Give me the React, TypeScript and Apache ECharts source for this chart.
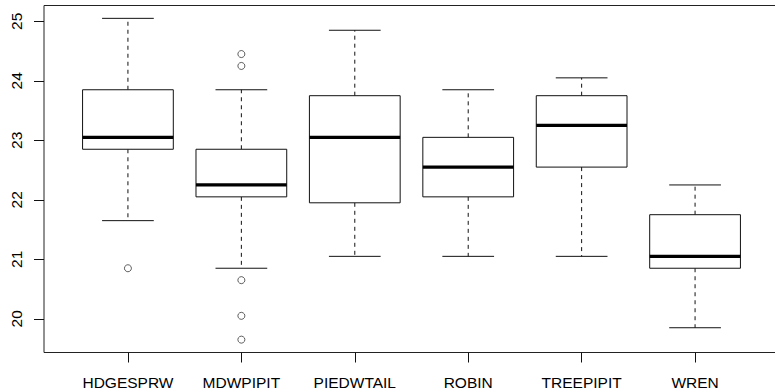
import { useEffect, useRef } from "react";
import * as echarts from "echarts";

// Egg length by host species (box = hinges, thick bar = median, dashed whiskers)
const groups = ["HDGESPRW", "MDWPIPIT", "PIEDWTAIL", "ROBIN", "TREEPIPIT", "WREN"];
const lowerWhisker = [21.65, 20.85, 21.05, 21.05, 21.05, 19.85];
const lowerHinge = [22.85, 22.05, 21.95, 22.05, 22.55, 20.85];
const medians = [23.05, 22.25, 23.05, 22.55, 23.25, 21.05];
const upperHinge = [23.85, 22.85, 23.75, 23.05, 23.75, 21.75];
const upperWhisker = [25.05, 23.85, 24.85, 23.85, 24.05, 22.25];

// Points beyond the whiskers: group position (1-based) and value
const outlierGroup = [1, 2, 2, 2, 2, 2];
const outlierValues = [20.85, 24.45, 24.25, 20.65, 20.05, 19.65];

const yTicks = [20, 21, 22, 23, 24, 25];
const xTicks = groups.map((_, i) => i + 1);

const FONT = "'Liberation Sans', Arial, sans-serif";

export default function App() {
  const ref = useRef<HTMLDivElement>(null);

  useEffect(() => {
    if (!ref.current) return;
    const chart = echarts.init(ref.current, undefined, { renderer: "svg" });

    // R-style axis ranges: data extent padded by 4% on each side
    const allVals = [...lowerWhisker, ...upperWhisker, ...outlierValues];
    const lo = Math.min(...allVals);
    const hi = Math.max(...allVals);
    const pad = (hi - lo) * 0.04;
    const xPad = groups.length * 0.04;

    const boxData = groups.map((_, i) => [
      i + 1,
      lowerWhisker[i],
      lowerHinge[i],
      medians[i],
      upperHinge[i],
      upperWhisker[i],
    ]);
    const outliers = outlierGroup.map((g, i) => [g, outlierValues[i]]);

    const ink = "#111";

    chart.setOption({
      animation: false,
      backgroundColor: "#fff",
      // plot frame runs a little past the visible page on the right
      grid: {
        left: 44,
        top: 5.5,
        right: 11,
        bottom: 37.5,
        outerBoundsMode: "none",
        containLabel: false,
        show: true,
        borderColor: "#222",
        borderWidth: 1,
        backgroundColor: "transparent",
      },
      xAxis: {
        type: "value",
        min: 0.5 - xPad,
        max: groups.length + 0.5 + xPad,
        splitLine: { show: false },
        axisLine: { show: false },
        axisTick: {
          show: true,
          length: 10,
          customValues: xTicks,
          lineStyle: { color: ink, width: 1 },
        },
        axisLabel: {
          customValues: xTicks,
          formatter: (v: number) => groups[Math.round(v) - 1] ?? "",
          color: "#000",
          fontFamily: FONT,
          fontSize: 15.5,
          margin: 22,
        },
      },
      yAxis: {
        type: "value",
        min: lo - pad,
        max: hi + pad,
        splitLine: { show: false },
        axisLine: { show: false },
        axisTick: {
          show: true,
          length: 10,
          customValues: yTicks,
          lineStyle: { color: ink, width: 1 },
        },
        axisLabel: {
          customValues: yTicks,
          rotate: 90,
          color: "#000",
          fontFamily: FONT,
          fontSize: 15.5,
          margin: 20,
        },
      },
      series: [
        {
          type: "custom",
          data: boxData,
          encode: { x: 0, y: [1, 2, 3, 4, 5] },
          renderItem: (_params: any, api: any) => {
            const x = api.value(0);
            const cx = api.coord([x, api.value(1)])[0];
            const yLow = api.coord([x, api.value(1)])[1];
            const yQ1 = api.coord([x, api.value(2)])[1];
            const yMed = api.coord([x, api.value(3)])[1];
            const yQ3 = api.coord([x, api.value(4)])[1];
            const yHigh = api.coord([x, api.value(5)])[1];
            const boxHalf = api.size([0.8, 0])[0] / 2;
            const capHalf = api.size([0.456, 0])[0] / 2;
            const thin = { stroke: ink, lineWidth: 1, fill: null };
            const dashed = { stroke: ink, lineWidth: 1, lineDash: [4, 4], fill: null };
            return {
              type: "group",
              children: [
                { type: "line", shape: { x1: cx, y1: yQ1, x2: cx, y2: yLow }, style: dashed },
                { type: "line", shape: { x1: cx, y1: yQ3, x2: cx, y2: yHigh }, style: dashed },
                { type: "line", shape: { x1: cx - capHalf, y1: yLow, x2: cx + capHalf, y2: yLow }, style: thin },
                { type: "line", shape: { x1: cx - capHalf, y1: yHigh, x2: cx + capHalf, y2: yHigh }, style: thin },
                {
                  type: "rect",
                  shape: { x: cx - boxHalf, y: yQ3, width: boxHalf * 2, height: yQ1 - yQ3 },
                  style: { fill: "#fff", stroke: ink, lineWidth: 1 },
                },
                {
                  type: "line",
                  shape: { x1: cx - boxHalf, y1: yMed, x2: cx + boxHalf, y2: yMed },
                  style: { stroke: "#000", lineWidth: 3.2 },
                },
              ],
            };
          },
        },
        {
          type: "scatter",
          data: outliers,
          symbol: "circle",
          symbolSize: 7,
          itemStyle: { color: "#fff", borderColor: "#222", borderWidth: 0.9 },
        },
      ],
    });

    return () => chart.dispose();
  }, []);

  return (
    <div
      style={{
        position: "fixed",
        left: 0,
        top: 0,
        width: 775,
        height: 390,
        overflow: "hidden",
        background: "#fff",
      }}
    >
      <div ref={ref} style={{ width: 790, height: 390 }} />
    </div>
  );
}
